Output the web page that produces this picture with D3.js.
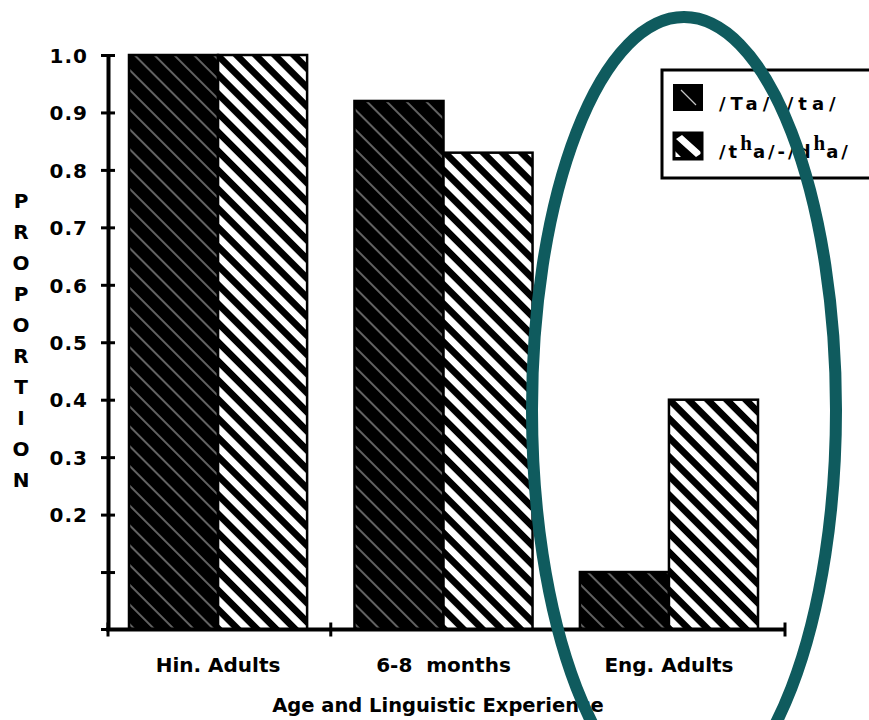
<!DOCTYPE html>
<html><head><meta charset="utf-8">
<script src="https://cdn.jsdelivr.net/npm/d3@7"></script>
<style>body{margin:0;background:#fff;} svg{display:block;}</style>
</head><body>
<svg id="chart" width="869" height="720"></svg>
<script>
// ---- data ----
const categories = ["Hin. Adults", "6-8  months", "Eng. Adults"];
const seriesNames = ["/Ta/-/ta/", "/tʰa/-/dʰa/"];
const retroflexValues = [1.0, 0.92, 0.10];
const aspiratedValues = [1.0, 0.83, 0.40];
const yTicks = [0.1, 0.2, 0.3, 0.4, 0.5, 0.6, 0.7, 0.8, 0.9, 1.0];
const yTickLabels = ["", "0.2", "0.3", "0.4", "0.5", "0.6", "0.7", "0.8", "0.9", "1.0"];
const yAxisTitle = "PROPORTION";
const xAxisTitle = "Age and Linguistic Experience";

// ---- layout ----
const svg = d3.select("#chart");
const FONT = "'DejaVu Sans', sans-serif";
const axisX = 108;
const xEnd = 785;

const y = d3.scaleLinear().domain([0, 1]).range([629.5, 55]);
const x = d3.scaleBand().domain(categories).range([106, 781]).paddingInner(0.21).paddingOuter(0.102);
const xs = d3.scaleBand().domain([0, 1]).range([0, x.bandwidth()]);

// ---- patterns ----
const defs = svg.append("defs");
const pd = defs.append("pattern").attr("id", "hatchDark").attr("patternUnits", "userSpaceOnUse")
  .attr("width", 14).attr("height", 14).attr("patternTransform", "rotate(45)");
pd.append("rect").attr("width", 14).attr("height", 14).attr("fill", "#000");
pd.append("line").attr("x1", 0).attr("x2", 14).attr("y1", 7).attr("y2", 7)
  .attr("stroke", "#c4c4c4").attr("stroke-width", 1);
const pl = defs.append("pattern").attr("id", "hatchLight").attr("patternUnits", "userSpaceOnUse")
  .attr("width", 13.5).attr("height", 13.5).attr("patternTransform", "rotate(45)");
pl.append("rect").attr("width", 13.5).attr("height", 13.5).attr("fill", "#fff");
pl.append("rect").attr("width", 13.5).attr("height", 6.8).attr("fill", "#000");

// ---- bars ----
const groups = svg.append("g").selectAll("g").data(categories).join("g")
  .attr("transform", d => `translate(${x(d)},0)`);
groups.selectAll("rect")
  .data((d, i) => [{ k: 0, v: retroflexValues[i] }, { k: 1, v: aspiratedValues[i] }])
  .join("rect")
  .attr("x", d => xs(d.k))
  .attr("width", xs.bandwidth())
  .attr("y", d => y(d.v))
  .attr("height", d => y(0) - y(d.v))
  .attr("fill", d => d.k ? "url(#hatchLight)" : "url(#hatchDark)")
  .attr("stroke", "#000").attr("stroke-width", 2.5);

// ---- y axis ----
const yAxis = d3.axisLeft(y).tickValues(yTicks).tickFormat((d, i) => yTickLabels[i])
  .tickSizeInner(7).tickSizeOuter(0).tickPadding(13);
const gy = svg.append("g").attr("transform", `translate(${axisX},0)`).call(yAxis);
gy.select(".domain").attr("stroke", "#000").attr("stroke-width", 4);
gy.selectAll(".tick line").attr("x1", 7).attr("x2", -7).attr("stroke", "#000").attr("stroke-width", 3);
gy.selectAll(".tick text").attr("fill", "#000").attr("dy", "0.36em")
  .style("font-family", FONT).style("font-weight", "bold").style("font-size", "20px")
  .style("letter-spacing", "1px");

// y title (stacked letters)
svg.append("g").selectAll("text").data(yAxisTitle.split("")).join("text")
  .attr("x", 21).attr("y", (d, i) => 207.5 + i * 31.1)
  .attr("text-anchor", "middle")
  .style("font-family", FONT).style("font-weight", "bold").style("font-size", "20px")
  .text(d => d);

// ---- x axis ----
const gx = svg.append("g").attr("transform", `translate(0,${y(0)})`);
gx.call(d3.axisBottom(x).tickSize(0).tickPadding(28));
gx.select(".domain").remove();
gx.selectAll(".tick text").attr("fill", "#000")
  .style("font-family", FONT).style("font-weight", "bold").style("font-size", "20px")
  .style("white-space", "pre");
gx.append("line").attr("x1", axisX - 2).attr("x2", xEnd).attr("y1", 0).attr("y2", 0)
  .attr("stroke", "#000").attr("stroke-width", 4);
const boundaries = [axisX].concat(categories.slice(1).map(c => x(c) - x.step() * x.paddingInner() / 2)).concat([xEnd]);
gx.selectAll(".bt").data(boundaries).join("line").attr("class", "bt")
  .attr("x1", d => d).attr("x2", d => d).attr("y1", -7).attr("y2", 7)
  .attr("stroke", "#000").attr("stroke-width", 3);
gx.append("line").attr("x1", axisX - 7).attr("x2", axisX).attr("y1", 0).attr("y2", 0)
  .attr("stroke", "#000").attr("stroke-width", 3);

svg.append("text").attr("x", 438).attr("y", 712).attr("text-anchor", "middle")
  .style("font-family", FONT).style("font-weight", "bold").style("font-size", "19.5px")
  .text(xAxisTitle);

// ---- legend ----
const lg = svg.append("g");
lg.append("rect").attr("x", 662).attr("y", 70).attr("width", 260).attr("height", 108)
  .attr("fill", "#fff").attr("stroke", "#000").attr("stroke-width", 3);
// swatch 1
lg.append("rect").attr("x", 674).attr("y", 85).attr("width", 28).attr("height", 25)
  .attr("fill", "#000").attr("stroke", "#000").attr("stroke-width", 2);
lg.append("line").attr("x1", 681).attr("y1", 90).attr("x2", 696).attr("y2", 105)
  .attr("stroke", "#c4c4c4").attr("stroke-width", 1.2);
// swatch 2
const cp = defs.append("clipPath").attr("id", "sw2");
cp.append("rect").attr("x", 674).attr("y", 133).attr("width", 28).attr("height", 26);
lg.append("rect").attr("x", 674).attr("y", 133).attr("width", 28).attr("height", 26).attr("fill", "#000");
lg.append("path").attr("clip-path", "url(#sw2)")
  .attr("d", "M676,139 L682,135 L702,153 L696,157 Z M674,150 L681,157 L674,157 Z").attr("fill", "#fff");
lg.append("rect").attr("x", 674).attr("y", 133).attr("width", 28).attr("height", 26)
  .attr("fill", "none").attr("stroke", "#000").attr("stroke-width", 3);

lg.append("text").attr("x", 719).attr("y", 110)
  .style("font-family", FONT).style("font-weight", "bold").style("font-size", "18px")
  .style("letter-spacing", "5px").text(seriesNames[0]);

const t2 = lg.append("text").attr("x", 719).attr("y", 158)
  .style("font-family", FONT).style("font-weight", "bold").style("font-size", "18px");
const parts = [["/t", 0, false], ["h", -8, true], ["a/-/d", 8, false], ["h", -8, true], ["a/", 8, false]];
parts.forEach(p => {
  const ts = t2.append("tspan").attr("dy", p[1]).text(p[0]);
  if (p[2]) ts.style("font-family", "'Liberation Serif', serif").style("font-size", "21px").style("letter-spacing", "1px");
  else ts.style("letter-spacing", "3px");
});

// ---- highlight ellipse ----
svg.append("ellipse").attr("cx", 684).attr("cy", 410).attr("rx", 152).attr("ry", 393)
  .attr("fill", "none").attr("stroke", "#0f5b5e").attr("stroke-width", 12);
</script>
</body></html>
